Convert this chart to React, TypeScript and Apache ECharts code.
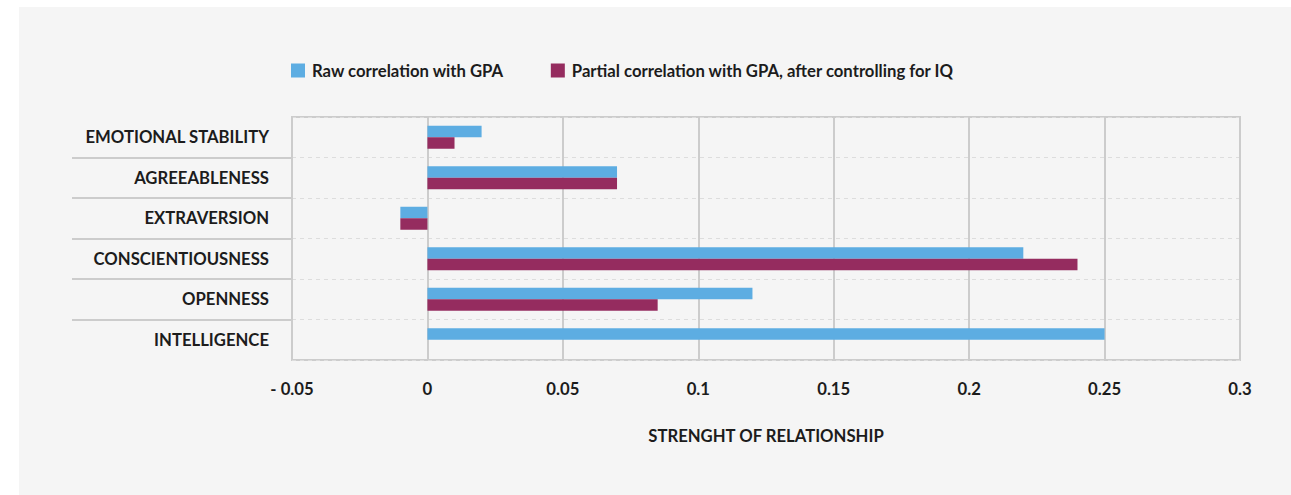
import React, { useEffect, useRef } from "react";
import * as echarts from "echarts";

const categories = [
  "EMOTIONAL STABILITY",
  "AGREEABLENESS",
  "EXTRAVERSION",
  "CONSCIENTIOUSNESS",
  "OPENNESS",
  "INTELLIGENCE",
];
const rawValues = [0.02, 0.07, -0.01, 0.22, 0.12, 0.25];
const partialValues: (number | null)[] = [0.01, 0.07, -0.01, 0.24, 0.085, null];
const seriesNames = [
  "Raw correlation with GPA",
  "Partial correlation with GPA, after controlling for IQ",
];
const xMin = -0.05;
const xMax = 0.3;
const xStep = 0.05;
const axisTitle = "STRENGHT OF RELATIONSHIP";

const FONT = "Lato, 'Noto Sans', sans-serif";
const TEXT = "#1c1c1c";
const FS = 16.7;

export default function App() {
  const ref = useRef<HTMLDivElement>(null);
  useEffect(() => {
    if (!ref.current) return;
    const chart = echarts.init(ref.current, null, { renderer: "svg" });
    chart.setOption({
      animation: false,
      backgroundColor: "#f5f5f5",
      textStyle: { fontFamily: FONT },
      legend: {
        left: 272,
        top: 55,
        padding: 0,
        icon: "rect",
        itemWidth: 14,
        itemHeight: 14,
        itemGap: 47,
        textStyle: {
          fontFamily: FONT,
          fontWeight: "bold",
          fontSize: FS,
          color: TEXT,
          padding: [0, 0, 0, 2],
        },
        data: seriesNames,
      },
      grid: {
        left: 273,
        top: 110,
        right: 51,
        bottom: 135,
        show: true,
        borderColor: "#cccccc",
        borderWidth: 2,
        backgroundColor: "transparent",
      },
      xAxis: {
        type: "value",
        min: xMin,
        max: xMax,
        interval: xStep,
        name: axisTitle,
        nameLocation: "middle",
        nameGap: 67,
        nameTextStyle: {
          fontFamily: FONT,
          fontWeight: "bold",
          fontSize: FS,
          color: TEXT,
        },
        axisLine: { show: false },
        axisTick: { show: false },
        axisLabel: {
          margin: 20,
          fontFamily: FONT,
          fontWeight: "bold",
          fontSize: FS,
          color: TEXT,
          formatter: (v: number) => {
            const r = Number(v.toFixed(2));
            return r < 0 ? "- " + String(Math.abs(r)) : String(r);
          },
        },
        splitLine: { show: true, lineStyle: { color: "#cccccc", width: 2 } },
      },
      yAxis: {
        type: "category",
        inverse: true,
        data: categories,
        axisLine: { show: false },
        axisTick: { show: false },
        axisLabel: {
          margin: 23,
          fontFamily: FONT,
          fontWeight: "bold",
          fontSize: FS,
          color: TEXT,
        },
        splitLine: {
          show: true,
          lineStyle: { color: "#dddddd", width: 1, type: [4, 4] },
        },
      },
      series: [
        {
          name: seriesNames[0],
          type: "bar",
          data: rawValues,
          barWidth: 11.5,
          barGap: "0%",
          itemStyle: { color: "#5DADE2" },
        },
        {
          name: seriesNames[1],
          type: "bar",
          data: partialValues,
          barWidth: 11.5,
          barGap: "0%",
          itemStyle: { color: "#952C5F" },
        },
      ],
    });

    const xLeft = chart.convertToPixel({ xAxisIndex: 0 }, xMin) as number;
    const lines: any[] = [];
    for (let i = 1; i < categories.length; i++) {
      const y0 = chart.convertToPixel({ yAxisIndex: 0 }, categories[i - 1]) as number;
      const y1 = chart.convertToPixel({ yAxisIndex: 0 }, categories[i]) as number;
      const y = Math.round((y0 + y1) / 2);
      lines.push({
        type: "line",
        shape: { x1: xLeft - 220, y1: y, x2: xLeft, y2: y },
        style: { stroke: "#cccccc", lineWidth: 2 },
        silent: true,
      });
    }
    chart.setOption({ graphic: lines });

    return () => chart.dispose();
  }, []);
  return (
    <div
      ref={ref}
      style={{ position: "absolute", left: 19, top: 7, width: 1272, height: 488 }}
    />
  );
}
